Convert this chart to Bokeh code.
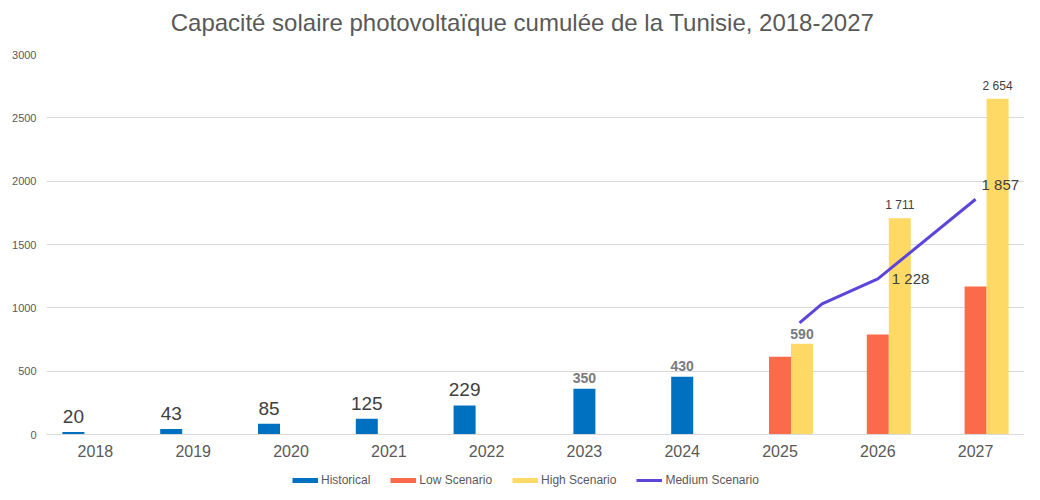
from bokeh.plotting import figure
from bokeh.layouts import column
from bokeh.models import ColumnDataSource, FixedTicker, Legend, LegendItem, Range1d, Label
from bokeh.embed import file_html
from bokeh.resources import INLINE
from bokeh.core.properties import value

# ---- data ----
years = ["2018", "2019", "2020", "2021", "2022", "2023", "2024", "2025", "2026", "2027"]
hist_years = ["2018", "2019", "2020", "2021", "2022", "2023", "2024"]
historical = [20, 43, 85, 125, 229, 361, 456]
historical_labels = ["20", "43", "85", "125", "229", "350", "430"]
low_years = ["2025", "2026", "2027"]
low = [614, 790, 1169]
high_years = ["2024", "2025", "2026", "2027"]
high = [3, 716, 1707, 2650]
high_labels = ["", "590", "1 711", "2 654"]
medium_years = ["2025", "2025", "2026", "2027"]
medium = [882, 1031, 1228, 1857]
medium_labels = ["", "", "1 228", "1 857"]
y_ticks = [0, 500, 1000, 1500, 2000, 2500, 3000]
series_names = ["Historical", "Low Scenario", "High Scenario", "Medium Scenario"]
title_text = "Capacité solaire photovoltaïque cumulée de la Tunisie, 2018-2027"

# ---- positions / styles (kept apart from the data) ----
BW = 0.225
hist_offsets = [-BW] * 5 + [0.0] * 2
low_offset = 0.0
high_offset = BW
medium_offsets = [0.2, 0.43, 0.0, 0.0]

BLUE = "#0070c0"
RED = "#fb6a4a"
YELLOW = "#ffd966"
PURPLE = "#5b45db"
GREY = "#595959"
FONT = value("Liberation Sans")

idx = {y: i for i, y in enumerate(years)}


def strip(h):
    f = figure(width=1024, height=h, output_backend="svg", toolbar_location=None,
               x_axis_type=None, y_axis_type=None, x_range=Range1d(0, 1), y_range=Range1d(0, 1),
               min_border_left=0, min_border_right=0, min_border_top=0, min_border_bottom=0)
    f.outline_line_color = None
    f.xgrid.grid_line_color = None
    f.ygrid.grid_line_color = None
    return f


# ---- title strip ----
head = strip(40)
head.add_layout(Label(x=476, y=18, x_units="screen", y_units="screen", text=title_text,
                      text_font="Liberation Sans", text_font_size="24px", text_color=GREY,
                      text_align="center", text_baseline="middle"))

# ---- main chart ----
p = figure(width=1024, height=430, output_backend="svg", toolbar_location=None,
           x_range=Range1d(-0.5, len(years) - 0.5), y_range=Range1d(0, 3000),
           min_border_left=46, min_border_right=0, min_border_top=14, min_border_bottom=36)
p.outline_line_color = None
p.background_fill_color = "white"

hist_src = ColumnDataSource(dict(
    x=[idx[y] + o for y, o in zip(hist_years, hist_offsets)],
    top=historical, label=historical_labels))
low_src = ColumnDataSource(dict(x=[idx[y] + low_offset for y in low_years], top=low))
high_src = ColumnDataSource(dict(x=[idx[y] + high_offset for y in high_years], top=high,
                                 label=high_labels))
med_src = ColumnDataSource(dict(x=[idx[y] + o for y, o in zip(medium_years, medium_offsets)],
                                y=medium, label=medium_labels))

p.vbar(x="x", top="top", width=BW, bottom=0, source=hist_src, fill_color=BLUE, line_color=None)
p.vbar(x="x", top="top", width=BW, bottom=0, source=low_src, fill_color=RED, line_color=None)
p.vbar(x="x", top="top", width=BW, bottom=0, source=high_src, fill_color=YELLOW, line_color=None)
p.line(x="x", y="y", source=med_src, line_color=PURPLE, line_width=3, line_join="round")

# historical labels: first five large, last two bold grey
big = ColumnDataSource(dict(x=hist_src.data["x"][:5], y=historical[:5], t=historical_labels[:5]))
p.text(x="x", y="y", text="t", source=big, text_font=FONT, text_font_size="19px",
       text_color="#404040", text_align="center", text_baseline="bottom", y_offset=-9)
small_b = ColumnDataSource(dict(x=hist_src.data["x"][5:], y=historical[5:], t=historical_labels[5:]))
p.text(x="x", y="y", text="t", source=small_b, text_font=FONT, text_font_size="14px",
       text_font_style="bold", text_color="#7a7a7a", text_align="center",
       text_baseline="bottom", y_offset=-6)

hb = ColumnDataSource(dict(x=high_src.data["x"][1:2], y=high[1:2], t=high_labels[1:2]))
p.text(x="x", y="y", text="t", source=hb, text_font=FONT, text_font_size="14px",
       text_font_style="bold", text_color="#7a7a7a", text_align="center",
       text_baseline="bottom", y_offset=-5)
hs = ColumnDataSource(dict(x=high_src.data["x"][2:], y=high[2:], t=high_labels[2:]))
p.text(x="x", y="y", text="t", source=hs, text_font=FONT, text_font_size="12px",
       text_color="#404040", text_align="center", text_baseline="bottom", y_offset=-6)

m1 = ColumnDataSource(dict(x=med_src.data["x"][2:3], y=medium[2:3], t=medium_labels[2:3]))
p.text(x="x", y="y", text="t", source=m1, text_font=FONT, text_font_size="15px",
       text_color="#404040", text_align="left", text_baseline="middle", x_offset=14)
m2 = ColumnDataSource(dict(x=med_src.data["x"][3:], y=medium[3:], t=medium_labels[3:]))
p.text(x="x", y="y", text="t", source=m2, text_font=FONT, text_font_size="15px",
       text_color="#404040", text_align="left", text_baseline="middle", x_offset=6, y_offset=-15)

# axes
p.xaxis.ticker = FixedTicker(ticks=list(range(len(years))))
p.xaxis.major_label_overrides = {i: y for i, y in enumerate(years)}
p.xaxis.major_label_text_font_size = "16px"
p.xaxis.major_label_text_color = GREY
p.xaxis.major_label_text_font = "Liberation Sans"
p.xaxis.major_tick_line_color = None
p.xaxis.minor_tick_line_color = None
p.xaxis.major_tick_out = 0
p.xaxis.major_tick_in = 0
p.xaxis.axis_line_color = "#d9d9d9"
p.xaxis.major_label_standoff = 10

p.yaxis.ticker = FixedTicker(ticks=y_ticks)
p.yaxis.major_label_text_font_size = "11px"
p.yaxis.major_label_text_color = GREY
p.yaxis.major_label_text_font = "Liberation Sans"
p.yaxis.major_tick_line_color = None
p.yaxis.minor_tick_line_color = None
p.yaxis.major_tick_out = 0
p.yaxis.major_tick_in = 0
p.yaxis.axis_line_color = None
p.yaxis.major_label_standoff = 10

p.xgrid.grid_line_color = None
p.ygrid.grid_line_color = "#d9d9d9"
p.ygrid.ticker = FixedTicker(ticks=y_ticks)

# ---- legend strip below the chart (swatch proxies hold a single NaN point) ----
lg = strip(22)
sw_colors = [BLUE, RED, YELLOW, PURPLE]
sw_widths = [5, 5, 5, 3]
nan = float("nan")
proxies = [lg.line(x=[nan], y=[nan], line_color=c, line_width=w, line_cap="butt")
           for c, w in zip(sw_colors, sw_widths)]
legend = Legend(items=[LegendItem(label=n, renderers=[r]) for n, r in zip(series_names, proxies)],
                orientation="horizontal", location=(246, 5),
                label_text_font_size="12px", label_text_color=GREY,
                label_text_font="Liberation Sans",
                glyph_width=26, glyph_height=12, label_height=12,
                label_standoff=3, spacing=20, padding=2, margin=0,
                border_line_color=None, background_fill_alpha=0)
lg.add_layout(legend, "center")

open("out.html", "w").write(file_html(column(head, p, lg, spacing=0), INLINE))
